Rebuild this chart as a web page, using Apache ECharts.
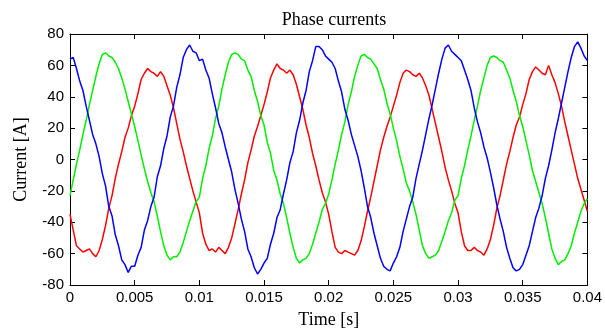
<!DOCTYPE html>
<html><head><meta charset="utf-8">
<script src="https://cdn.jsdelivr.net/npm/echarts@6/dist/echarts.min.js"></script>
<style>html,body{margin:0;padding:0;background:#fff}#c{width:605px;height:334px}</style>
</head><body><div id="c"></div>
<script>
// sample step 0.25 ms, t = 0 .. 0.04 s (161 samples)
const timeStep = 0.00025;
const xTicks = [0, 0.005, 0.01, 0.015, 0.02, 0.025, 0.03, 0.035, 0.04];
const yTicks = [-80, -60, -40, -20, 0, 20, 40, 60, 80];

const blueA = [
  64,65,58,50,44,34,25,16,10,2,-9,-17,-30,-36,-48,-55,-64,-67,-72,-68,-68,-61,-56,-45,-39,-30,-24,-11,-4,7,15,27,34,46,54,65,70,73,69,68,
  63,64,57,52,42,33,23,17,8,0,-8,-19,-28,-38,-46,-57,-62,-69,-73,-70,-66,-63,-54,-47,-37,-32,-22,-13,-2,5,17,25,36,44,56,63,72,72,70,66,
  64,62,58,50,43,32,25,16,9,2,-7,-18,-30,-37,-47,-55,-63,-68,-70,-71,-66,-62,-56,-46,-38,-30,-24,-12,-3,6,16,26,35,45,55,64,71,73,69,67,
  65,63,57,51,44,33,24,17,8,1,-8,-18,-29,-38,-46,-56,-63,-69,-71,-70,-67,-61,-55,-46,-37,-31,-23,-12,-4,6,17,26,36,46,56,65,72,75,71,66,
  63];
const greenA = [
  -23,-13,-3,6,16,25,35,44,53,61,67,68,66,65,62,58,52,45,37,29,21,12,3,-6,-14,-21,-27,-36,-46,-55,-61,-64,-62,-62,-59,-53,-46,-39,-33,-27,
  -24,-12,-4,7,15,26,34,45,54,62,67,68,67,64,63,57,53,44,37,28,22,11,4,-7,-13,-22,-28,-37,-47,-56,-63,-66,-64,-63,-60,-54,-47,-40,-32,-28,
  -22,-13,-3,6,16,24,35,43,53,60,66,67,65,64,61,58,51,45,36,29,20,12,2,-6,-15,-20,-27,-35,-45,-55,-60,-63,-62,-61,-58,-52,-46,-39,-34,-26,
  -23,-12,-4,6,15,25,34,44,52,60,65,66,65,63,62,57,52,44,37,28,21,12,3,-7,-14,-21,-28,-37,-47,-57,-63,-67,-65,-64,-60,-55,-47,-40,-33,-28,
  -25];
const redA = [
  -35,-45,-55,-57,-59,-58,-57,-60,-62,-58,-51,-42,-31,-23,-12,-3,5,14,20,28,34,42,51,55,58,56,55,53,56,53,47,41,33,23,13,5,-4,-12,-20,-27,
  -34,-47,-54,-58,-57,-59,-56,-58,-60,-56,-50,-41,-32,-22,-13,-2,6,15,21,28,35,43,52,57,61,58,57,55,57,54,48,40,32,22,14,4,-4,-13,-21,-27,
  -35,-46,-56,-59,-60,-58,-59,-60,-61,-58,-52,-43,-33,-24,-14,-4,6,14,21,27,34,41,49,55,57,56,54,53,55,52,47,41,32,23,14,5,-5,-13,-20,-28,
  -34,-46,-55,-58,-58,-56,-58,-59,-61,-57,-51,-42,-31,-23,-13,-3,5,14,22,27,35,42,51,56,59,57,55,54,60,54,49,42,34,24,15,6,-3,-12,-19,-26,
  -33];

function pairs(arr){ return arr.map((v,i)=>[+(i*timeStep).toFixed(5), v]); }

const chart = echarts.init(document.getElementById('c'), null, {renderer:'canvas'});
const serif = '"Liberation Serif","Times New Roman",serif';
const sans = '"Liberation Sans",Arial,sans-serif';
const axisCommon = {
  axisLine:{show:true, onZero:false, lineStyle:{color:'#000', width:1}},
  axisTick:{show:true, inside:true, length:5, lineStyle:{color:'#000'}},
  splitLine:{show:false}
};
chart.setOption({
  animation:false,
  backgroundColor:'#fff',
  title:{text:'Phase currents', left:329, top:6, textAlign:'center',
    textStyle:{fontFamily:serif, fontSize:18, fontWeight:'normal', color:'#000'}},
  grid:{left:70, right:17, top:34, bottom:47, containLabel:false},
  xAxis:[
    Object.assign({type:'value', min:xTicks[0], max:xTicks[xTicks.length-1], interval:0.005, position:'bottom',
      name:'Time [s]', nameLocation:'middle', nameGap:26,
      nameTextStyle:{fontFamily:serif, fontSize:18, color:'#000'},
      axisLabel:{fontFamily:sans, fontSize:15, color:'#000', margin:5}}, axisCommon),
    Object.assign({type:'value', min:xTicks[0], max:xTicks[xTicks.length-1], interval:0.005, position:'top',
      axisLabel:{show:false}}, axisCommon)
  ],
  yAxis:[
    Object.assign({type:'value', min:yTicks[0], max:yTicks[yTicks.length-1], interval:20, position:'left',
      name:'Current [A]', nameLocation:'middle', nameGap:40,
      nameTextStyle:{fontFamily:serif, fontSize:18, color:'#000'},
      axisLabel:{fontFamily:sans, fontSize:15, color:'#000', margin:6}}, axisCommon),
    Object.assign({type:'value', min:yTicks[0], max:yTicks[yTicks.length-1], interval:20, position:'right',
      axisLabel:{show:false}}, axisCommon)
  ],
  series:[
    {type:'line', data:pairs(redA), showSymbol:false, lineStyle:{color:'#ff0000', width:1.5}, itemStyle:{color:'#ff0000'}},
    {type:'line', data:pairs(greenA), showSymbol:false, lineStyle:{color:'#00ee00', width:1.5}, itemStyle:{color:'#00ee00'}},
    {type:'line', data:pairs(blueA), showSymbol:false, lineStyle:{color:'#0000ff', width:1.5}, itemStyle:{color:'#0000ff'}}
  ]
});
</script></body></html>
